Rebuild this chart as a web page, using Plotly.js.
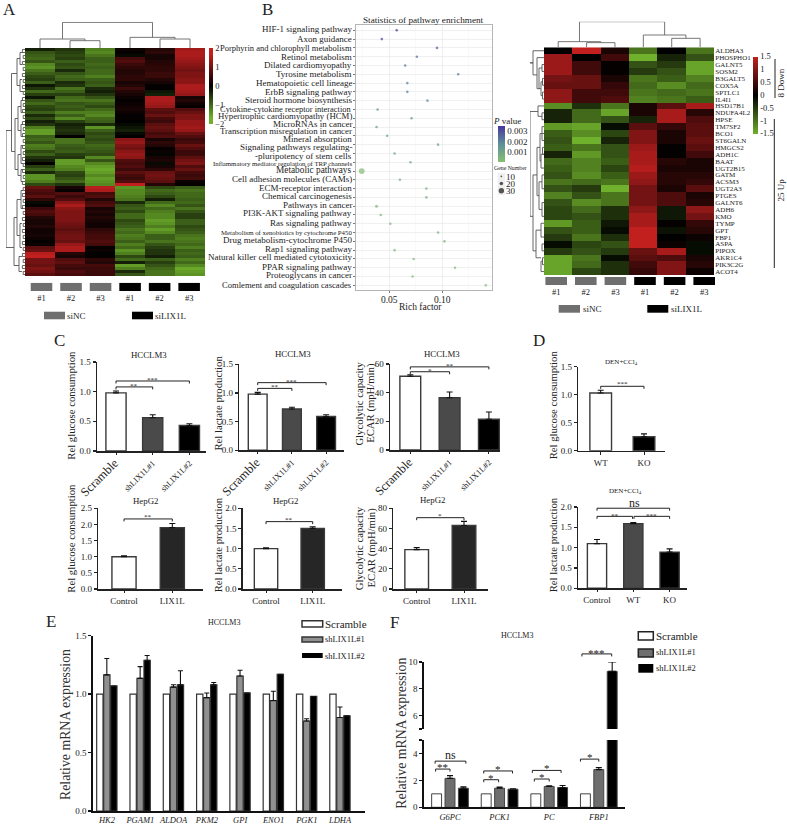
<!DOCTYPE html>
<html><head><meta charset="utf-8">
<script src="https://cdn.plot.ly/plotly-3.0.1.min.js"></script>
<style>html,body{margin:0;padding:0;background:#fff}#g{width:787px;height:827px}</style></head>
<body><div id="g"></div>
<script>
/* ---------- DATA ---------- */
const sampleLabels=['#1','#2','#3','#1','#2','#3'];
const sampleColors=['#6f6f6f','#6f6f6f','#6f6f6f','#000','#000','#000'];
const heatA=[
[-.3,-.5,-1.2,.1,.3,1.4],[-.8,-.6,-1.3,.05,.4,1.5],[-.9,-.7,-1.1,-.1,.2,1.5],[-1,-.6,-.9,.6,.2,1.4],
[-.8,-.9,-.9,.7,.3,1.3],[-1.3,-.7,-1,.5,.35,1.2],[-1.4,-.8,-.9,.4,.4,1.1],[-1.1,-.4,-1,.3,.4,1],
[-.9,-.8,-1,.3,.5,1.1],[-.7,-1,-1.2,.4,.5,1.1],[-.6,-.9,-.9,.4,.3,1.2],[-.9,-.4,-.8,.2,.2,1.2],
[-.2,-.5,-.9,.3,.03,1.5],[-.5,-1.1,-.4,.5,.02,1.5],[-1,-.9,-.3,.3,-.2,1.4],[-.6,-.6,-.5,.2,-.3,1.3],
[-.2,-1,-.8,.1,1.5,.2],[-.8,-1.1,-1.1,.05,1.5,.3],[-1,-.8,-.9,.1,1.4,.15],[-.7,-.9,-.7,.15,1.3,.05],
[-.6,-.8,-1,.2,.8,.7],[-.9,-1.2,-1.2,.1,.7,.9],[-.4,-.9,-1.3,.03,.9,1.1],[-.7,-1.3,-1,.05,.6,1.1],
[-.3,-.6,-.9,0,.5,1.3],[-.5,-.3,-.4,-.1,.8,1.3],[-1.2,-.4,-1.4,-.2,.9,1.4],[-1.5,-.5,-.9,-.3,.8,1.3],
[-1.5,-.4,-.7,-.1,.6,.9],[-.9,.05,-.8,.02,.7,.7],
[-1,-1.1,-.7,1.2,.2,.5],[-.8,-1.1,-.8,1.3,.4,.6],[-1.2,-.9,-1,1.1,.3,.9],[-1.1,-.8,-.9,1,.05,.7],
[-.7,-.9,-.8,1.2,.1,.5],[-.9,-.6,-.7,1.3,-.05,.5],[-.5,-.5,-1.3,1.2,.2,.8],[-.3,-1.5,-.8,.7,.25,1],
[.05,-1.5,-1.3,.6,-.1,1.1],[-.6,-1.3,-1.5,.7,.2,.7],[-.9,-1.2,-1.6,.5,.4,.9],[-.4,-.7,-1.5,.8,.9,.6],
[-1.4,-.6,-1.3,.6,1,.5],[-1.4,-.8,-1.5,.5,.9,.6],[-1.2,-1,-1.4,.7,.8,.1],[-.7,-.5,-1.3,1.7,.3,.05],
[.9,.2,1.6,-1.4,-.7,-.9],[.7,.05,1.5,-1.3,-1,-1.1],[.6,.7,.6,-1.3,-.9,-1],[.8,.5,.7,-1.2,-.7,-1],
[.4,.7,.3,-1.1,-.3,-.9],[-.1,1.2,.6,-.4,-1,-1],[.05,1.5,.7,-.8,-1.3,-.8],[.5,1.2,.2,-.9,-1,-1.1],
[.7,1.1,.3,-.7,-1.2,-.8],[.6,1.1,.2,-1,-1.3,-.6],[.3,1.1,.3,-1,-1.3,-.6],[.2,1.1,.2,-.7,-1.5,-.9],
[.2,1,.15,-.8,-1.4,-.9],[.3,.9,.15,-.9,-1.2,-.7],[.15,.8,.4,-1.1,-1.5,-.8],[.15,.9,.5,-1,-1.3,-.9],
[.2,1,.6,-1.2,-.9,-1.1],[.1,1,.6,-1.1,-.9,-1.2],[.05,.9,.7,-.9,-1.1,-1.1],[.1,1.3,.6,-1.2,-.8,-1],
[.8,1.5,.05,-1,-.6,-1.2],[.9,1.5,.1,-1.4,-.5,-.9],[1.6,.3,-.02,-1.2,-.5,-1],[1.7,.2,.05,-.7,-.3,-.9],
[1,.7,.4,-1,-.9,-1.2],[1,.8,.3,-.3,-.6,-1],[.9,.6,.6,-1.5,-.8,-1.3],[1.1,.5,.5,-1.2,-1,-1.6],
[1,.7,.5,-.4,-1.1,-1.5],[.8,.6,.5,-.8,-1.1,-1.4]];
const genesR=['ALDHA3','PHOSPHO1','GALNT5','SOSM2','B3GALT5','COX5A','SPTLC1','IL4I1','HSD17B1','NDUFA4L2','HPSE','TM7SF2','BCO1','ST6GALN','HMGCS2','ADH1C','BAAT','UGT2B15','GATM','ACSM3','UGT2A3','PTGES','GALNT6','ADH6','KMO','TYMP','GPT','FBP1','ASPA','PIPOX','AKR1C4','PIK3C2G','ACOT4'];
const heatR=[
[0,1.5,.2,-1,0,-1],[1.2,0,.5,-1.5,-.3,-.7],[1.2,.5,.05,-.7,-.5,-1.4],[1.2,.5,.05,-.5,-.7,-1.4],
[.9,.8,.2,-1,-.8,-1.1],[.8,.8,.4,-.9,-1.2,-.9],[1.1,.5,.5,-1,-.9,-1],[1.1,.5,.6,-1.1,-1,-.8],
[-1.2,-.4,-1,.2,.7,1.3],[-.3,-.9,-1.4,.2,1.3,.3],[-.3,-.9,-.7,-.3,1.3,.6],[-1.3,-1.4,-.1,.7,.4,.7],
[-.8,-1.2,-.6,1,.2,.7],[-.7,-1.5,-.3,1,.2,.8],[-.8,-1,-.7,1.2,.03,.7],[-.3,-1.3,-.7,1.3,.03,.5],
[-.9,-1.1,-.8,1.3,.3,.2],[-.8,-1.1,-.6,1.4,.2,.2],[-.7,-1.2,-.8,1.2,.3,.3],[-1,-.9,-1,1.1,.3,.4],
[-.7,-.5,-1.5,.9,.2,.7],[-1.1,-.7,-1,.9,.6,.2],[-.7,-1.2,-1,.9,.6,.3],[-.6,-.9,-.4,1.1,-.2,1.1],
[-.6,-.7,-.4,1.3,-.2,.9],[-1.3,-.8,-.2,1.3,.05,.4],[-.7,-.8,-.1,1.5,-.15,.3],[-.5,-1,-.4,1.5,0,.1],
[-.1,-.6,-.7,1.5,.1,-.1],[-.5,-.7,-.5,.8,1.3,-.1],[-1.4,-1,-.1,.7,.6,.2],[-1.4,-.9,-.4,.5,1,.3],[-1.4,-.6,-.4,.4,1,.1]];
/* dendrogram merges: [posA,heightA,posB,heightB,height] */
const dendTopA=[[1,0,2,0,22],[0,0,1.5,22,27],[4,0,5,0,27],[3,0,4.5,27,32],[.75,27,3.75,32,77]];
const dendTopR=[[1,0,2,0,14],[0,0,1.5,14,17],[4,0,5,0,27],[3,0,4.5,27,37],[.75,17,3.75,37,77]];
const dendLeftA=[[27,13.5,66,11,19],[8,8,34,10,13.5],[3,5,12,5,8],[1,2,5,3,5],[10,3,14,2,5],[23,7,40,7,10],[19,4,27,4,7],[17,2,21,2.5,4],[25,2,29,2,4],[35,4,42,4,7],[32,2,38,2,4],[40,2,44,2,4],[56,8,72,6,11],[50,4,62,5,8],[47,2,53,2,4],[58,3,66,3,5],[69,3,74,3,6]];
const dendLeftR=[[1.75,11,1.75,11,14],[0,0,3.5,7,11],[1,0,5.5,5,7],[2.5,2,5.5,3,5],[2,0,3,0,2],[4.5,1.5,6.5,1.5,3],[4,0,5,0,1.5],[6,0,7,0,1.5],
[8.8,6,24,11,14],[8,0,9.5,2,6],[9,0,10,0,2],[18,7,29,8,11],[14,4,21,5,7],[12,0,16,3,4],[11,0,13,0,2],[15,0,17,0,3],[19,2,23,2,5],[18,0,20,0,2],[22,0,24,0,2],[26,3,30,3,8],[25,0,27,0,3],[28,0,29,0,2],[30.5,1.5,32,0,3],[30,0,31,0,1.5],[14,0,15,0,1.5]];
/* panel B */
const pathways=['HIF-1 signaling pathway','Axon guidance','Porphyrin and chlorophyll metabolism','Retinol metabolism','Dilated cardiomyopathy','Tyrosine metabolism','Hematopoietic cell lineage','ErbB signaling pathway','Steroid hormone biosynthesis','Cytokine-cytokine receptor interaction','Hypertrophic cardiomyopathy (HCM)','MicroRNAs in cancer','Transcription misregulation in cancer','Mineral absorption','Signaling pathways regulating- -pluripotency of stem cells','Inflammatory mediator regulation of TRP channels','Metabolic pathways','Cell adhesion molecules (CAMs)','ECM-receptor interaction','Chemical carcinogenesis','Pathways in cancer','PI3K-AKT signaling pathway','Ras signaling pathway','Metabolism of xenobiotics by cytochrome P450','Drug metabolism-cytochrome P450','Rap1 signaling pathway','Natural killer cell mediated cytotoxicity','PPAR signaling pathway','Proteoglycans in cancer','Comlement and coagulation cascades'];
const richFactor=[.057,.043,.095,.076,.065,.115,.067,.067,.086,.039,.071,.038,.048,.096,.055,.070,.024,.060,.085,.085,.038,.042,.051,.096,.102,.055,.073,.112,.072,.141];
const pValue=[.0035,.0033,.0027,.0025,.0023,.0022,.0021,.0021,.0019,.0017,.0015,.0014,.0012,.0012,.0011,.001,.0002,.0008,.0007,.0007,.0004,.0004,.0005,.0006,.0006,.0004,.0005,.0004,.0003,.0003];
const geneCount=[7,10,6,6,7,6,6,6,6,11,7,13,9,6,7,7,32,9,7,7,17,15,12,7,6,13,10,7,14,9];
const sizeLegend=[10,20,30];
/* panels C,D */
const grpC=['Scramble','shLIX1L#1','shLIX1L#2'], grpH=['Control','LIX1L'];
const c1=[.98,.56,.43],c1e=[.03,.05,.03],c2=[.98,.72,.59],c2e=[.03,.03,.03],c3=[51.5,36.5,21.5],c3e=[1,4,5];
const c4=[1,1.9],c4e=[.03,.13],c5=[1,1.5],c5e=[.02,.04],c6=[39,63],c6e=[2,4];
const d1=[1.03,.25],d1e=[.05,.05],d2=[1.1,1.59,.89],d2e=[.1,.03,.08];
/* panel E */
const genesE=['HK2','PGAM1','ALDOA','PKM2','GPI','ENO1','PGK1','LDHA'];
const eScr=[1,1,1,1,1,1,1,1];
const eA=[1.165,1.135,1.06,.97,1.155,.945,.77,.8],eAe=[.14,.1,.02,.04,.05,.08,.02,.09];
const eB=[1.07,1.29,1.08,1.08,1.01,1.17,.98,.815],eBe=[0,.04,.12,.02,0,0,0,0];
/* panel F */
const genesF=['G6PC','PCK1','PC','FBP1'];
const fScr=[1,1,1,1];
const fA=[2.15,1.42,1.55,2.8],fAe=[.2,.08,.05,.15];
const fB=[1.42,1.35,1.47,9.3],fBe=[.1,.02,.15,.7];

/* ---------- HELPERS ---------- */
const W=787,H=827,FF='Liberation Serif',INK='#222';
const traces=[],annotations=[],shapes=[];
const layout={width:W,height:H,margin:{l:0,r:0,t:0,b:0,autoexpand:false},paper_bgcolor:'#fff',plot_bgcolor:'rgba(0,0,0,0)',showlegend:false,font:{family:FF,color:INK,size:9},annotations,shapes,barmode:'overlay',hovermode:false};
let n=0;
const base={showgrid:false,zeroline:false,fixedrange:true,showticklabels:false,ticks:'',showline:false};
function axes(L,R,T,B,xo,yo){n++;const s=n==1?'':n;
 layout['xaxis'+s]=Object.assign({},base,{domain:[L/W,R/W],anchor:'y'+s},xo);
 layout['yaxis'+s]=Object.assign({},base,{domain:[1-B/H,1-T/H],anchor:'x'+s},yo);
 return {x:'x'+s,y:'y'+s};}
function T(px,py,text,size,o={}){annotations.push({xref:'paper',yref:'paper',x:px/W,y:1-py/H,text,showarrow:false,xanchor:o.a||'center',yanchor:'middle',textangle:o.rot||0,borderpad:0,font:{family:FF,size,color:o.c||'#222'}});}
function rect(L,Tp,R,B,fill,line){shapes.push({type:'rect',xref:'paper',yref:'paper',x0:L/W,x1:R/W,y0:1-B/H,y1:1-Tp/H,fillcolor:fill,line:{color:line||fill,width:line?1.5:0},layer:'below'});}
function vline(px,y0,y1){shapes.push({type:'line',xref:'paper',yref:'paper',x0:px/W,x1:px/W,y0:1-y0/H,y1:1-y1/H,line:{color:'#222',width:1}});}
function dend(ax,m,vertical,color){const a=[],b=[];m.forEach(([p,hp,q,hq,h])=>{a.push(p,p,q,q,null);b.push(hp,h,h,hq,null);});
 traces.push(Object.assign({type:'scatter',mode:'lines',line:{color:color||'#555',width:.9},hoverinfo:'skip',xaxis:ax.x,yaxis:ax.y},vertical?{x:a,y:b}:{x:b,y:a}));}
const heatScale=[[0,'#6fb02c'],[.08,'#6fb02c'],[.5,'#000'],[.92,'#c21f1f'],[1,'#c21f1f']];
const heatScaleR=[[0,'#6fb02c'],[.5,'#000'],[1,'#c21f1f']];
function strip(L,R,Tp,B,c0,sp){const ax=axes(L,R,Tp,B,{range:[(L-c0)/sp,(R-c0)/sp],tickvals:[0,1,2,3,4,5],ticktext:sampleLabels,showticklabels:true,tickfont:{size:8.5,family:FF},ticklen:0},{range:[0,1]});
 traces.push({type:'bar',x:[0,1,2,3,4,5],y:[1,1,1,1,1,1],width:.73,marker:{color:sampleColors,line:{width:0}},xaxis:ax.x,yaxis:ax.y});}
function bracket(ax,pxPerUnit,x0,x1,y,label,size,dy){const d=2.5/pxPerUnit;
 traces.push({type:'scatter',mode:'lines',x:[x0,x0,x1,x1],y:[y-d,y,y,y-d],line:{color:'#222',width:1},cliponaxis:false,xaxis:ax.x,yaxis:ax.y});
 if(label)annotations.push({xref:ax.x,yref:ax.y,x:(x0+x1)/2,y,yshift:dy==null?2:dy,text:label,showarrow:false,yanchor:'middle',xanchor:'center',borderpad:0,font:{family:FF,size:size||8,color:'#222'}});}
function err(a,w){return {type:'data',array:a,arrayminus:a.map(()=>0),symmetric:false,thickness:1.1,width:w||3,color:'#111'};}
function lineAxis(o){return Object.assign({showline:true,linecolor:'#222',linewidth:1.5},o);}
function barPanel(c){
 const ids=c.vals.map((_,i)=>i);
 const ax=axes(c.L,c.R,c.Tp,c.B,lineAxis({range:[(c.L-c.c0)/c.sp,(c.R-c.c0)/c.sp],tickvals:ids,ticktext:c.ticks,showticklabels:true,ticks:'outside',ticklen:2.5,tickwidth:1,tickcolor:'#222',tickangle:c.rot||0,tickfont:{size:c.tsize||9,family:FF}}),
  lineAxis({range:[0,c.ymax],tickvals:c.yt,ticktext:c.ytl,showticklabels:true,ticks:'outside',ticklen:3,tickwidth:1.2,tickcolor:'#222',tickfont:{size:9,family:FF}}));
 traces.push({type:'bar',x:ids,y:c.vals,width:c.bw,marker:{color:c.colors,line:{color:'#3a3a3a',width:1.4}},error_y:err(c.err),xaxis:ax.x,yaxis:ax.y});
 ax.ppu=(c.B-c.Tp)/c.ymax;return ax;}
const big=s=>`<span style="font-size:12.5px">${s}</span>`;
const rotTicks=[big(grpC[0]),grpC[1],grpC[2]];
const y15=[0,.5,1,1.5],y15l=['0.0','0.5','1.0','1.5'],y20=[0,.5,1,1.5,2],y20l=['0.0','0.5','1.0','1.5','2.0'];

/* ---------- PANEL A ---------- */
let ax=axes(25,205,48,276,{range:[-.5,5.5]},{range:[heatA.length-.5,-.5]});
traces.push({type:'heatmap',z:heatA,x:[0,1,2,3,4,5],y:heatA.map((_,i)=>i),zmin:-2,zmax:2,colorscale:heatScale,xaxis:ax.x,yaxis:ax.y,
 colorbar:{x:209.3/W,xanchor:'left',y:1-86/H,yanchor:'middle',len:76/H,lenmode:'fraction',thickness:4,thicknessmode:'pixels',outlinewidth:0,xpad:0,ypad:0,ticks:'',tickvals:[-2,-1,0,1,2],tickfont:{size:8.5,family:FF,color:'#222'}}});
ax=axes(25,205,21.7,48,{range:[-.5,5.5]},{range:[0,79]});dend(ax,dendTopA,true,'#666');
ax=axes(6,25,48,276,{range:[19,0]},{range:[heatA.length-.5,-.5]});
const leafA=[];for(let r=0;r<heatA.length;r+=2)leafA.push([r,0,r+1,0,r%4?1.8:2.6]);
dend(ax,leafA.concat(dendLeftA),false,'#555');
strip(25,205,282.7,291,41.5,29.53);
rect(44,311.7,65,319.3,'#6f6f6f');T(66,315.5,'siNC',9,{a:'left'});
rect(132,311.7,153,319.3,'#000');T(154,315.5,'siLIX1L',9,{a:'left'});
T(9,9.5,'A',17);

/* ---------- PANEL B ---------- */
ax=axes(356,491.7,25.3,290,{range:[.0186,.1466],tickvals:[.05,.1],ticktext:['0.05','0.10'],showticklabels:true,ticklabelstandoff:-2,showgrid:true,gridcolor:'#ececec',gridwidth:.8,minor:{showgrid:true,dtick:.025,gridcolor:'#f5f5f5',gridwidth:.6},showline:true,mirror:true,linecolor:'#b5b5b5',linewidth:1.4,ticks:'outside',ticklen:2,tickcolor:'#777',tickfont:{size:9.5,family:FF}},
 {type:'category',categoryorder:'array',categoryarray:pathways,range:[29.53,-.57],tickvals:pathways,showgrid:true,gridcolor:'#ececec',gridwidth:.8,showline:true,mirror:true,linecolor:'#b5b5b5',linewidth:1.4,ticks:'outside',ticklen:2,tickcolor:'#777'});
const bScale=[[0,'#86c070'],[.5,'#5d8f9a'],[1,'#47379d']];
traces.push({type:'scatter',mode:'markers',x:richFactor,y:pathways,xaxis:ax.x,yaxis:ax.y,marker:{size:geneCount,sizemode:'diameter',sizeref:5.6,sizemin:1.3,color:pValue,cmin:.00006,cmax:.0035,colorscale:bScale,line:{width:0},
 colorbar:{x:497.7/W,xanchor:'left',y:1-144/H,yanchor:'middle',len:36/H,lenmode:'fraction',thickness:7.3,thicknessmode:'pixels',outlinewidth:0,xpad:0,ypad:0,ticks:'',tickvals:[.001,.002,.003],ticktext:['0.001','0.002','0.003'],tickfont:{size:9,family:FF,color:'#222'}}}});
/* pathway labels sit a little off their rows in the source, so they are placed individually */
const labelRowsPx=[29.3,39,48,56.7,65.3,74,82.7,91.7,100.3,108.7,116,124,130.7,139.3,147,155.7,163.7,170.3,179,187.7,196.3,204.7,213.3,223,232.3,240.3,248.7,257.3,266.7,275.3,285.3];
const labelText=pathways.slice(0,14).concat(['Signaling pathways regulating-','-pluripotency of stem cells'],pathways.slice(15));
const labelSize=[9,9,8.5,9,9,9,9,9,9,8.45,8.8,9,8.8,9,9,9,6.8,9.3,9,9,9,9,9,9,6.8,9,9,9,9,9,8.6];
labelText.forEach((t,i)=>T(353.3,labelRowsPx[i],t,labelSize[i],{a:'right'}));
T(424,20,'Statistics of pathway enrichment',9.2);
T(421,306.5,'Rich factor',9.5);
T(506.7,120.7,'<i>P</i> value',9);
T(510.7,168,'Gene Number',5.8);
rect(497.7,172.7,505,195,'#f0f0f0');
ax=axes(497.7,505,172.7,195,{range:[0,1]},{range:[36,4.9],side:'right',tickvals:sizeLegend,ticktext:sizeLegend.map(String),showticklabels:true,tickfont:{size:9,family:FF},ticklen:0});
traces.push({type:'scatter',mode:'markers',x:[.5,.5,.5],y:sizeLegend,xaxis:ax.x,yaxis:ax.y,marker:{size:sizeLegend,sizemode:'diameter',sizeref:5.6,color:'#111',line:{width:0}}});
T(267.5,9.5,'B',17);

/* ---------- RIGHT HEATMAP ---------- */
ax=axes(544,714.3,47.3,275,{range:[-.5,5.5]},{range:[genesR.length-.5,-.5],side:'right',tickvals:genesR.map((_,i)=>i),ticktext:genesR,showticklabels:true,tickfont:{size:7,family:FF},ticklen:0});
traces.push({type:'heatmap',z:heatR,x:[0,1,2,3,4,5],y:genesR.map((_,i)=>i),zmin:-1.5,zmax:1.5,colorscale:heatScaleR,xaxis:ax.x,yaxis:ax.y,
 colorbar:{x:752.7/W,xanchor:'left',y:1-95/H,yanchor:'middle',len:76.6/H,lenmode:'fraction',thickness:4.6,thicknessmode:'pixels',outlinewidth:0,xpad:0,ypad:0,ticks:'',tickvals:[-1.5,-1,-.5,0,.5,1,1.5],ticktext:['-1.5','-1','-0.5','0','0.5','1','1.5'],tickfont:{size:8.5,family:FF,color:'#222'}}});
ax=axes(544,714.3,21.7,47.3,{range:[-.5,5.5]},{range:[0,77]});dend(ax,dendTopR,true,'#666');
ax=axes(530,544,47.3,275,{range:[14,0]},{range:[genesR.length-.5,-.5]});dend(ax,dendLeftR,false,'#555');
strip(544,717,277,285,556.2,29.6);
rect(558.7,305,580,312.7,'#6f6f6f');T(582,309,'siNC',9,{a:'left'});
rect(647.3,305,668.3,312.7,'#000');T(670,309,'siLIX1L',9,{a:'left'});
vline(775,59,98);vline(774.3,119,268);
T(780.5,83,'8 Down',9,{rot:-90});T(780.5,190,'25 Up',9,{rot:-90});

/* ---------- PANEL C ---------- */
const cCol=['#fff','#4a4a4a','#000'];
ax=barPanel({L:97,R:206,Tp:362,B:451,c0:116,sp:36.7,bw:.55,vals:c1,err:c1e,colors:cCol,ticks:rotTicks,rot:-45,tsize:8.5,ymax:1.5,yt:y15,ytl:y15l});
bracket(ax,ax.ppu,0,2,1.18,'***',7,1);bracket(ax,ax.ppu,0,1,1.08,'**',7,1);
ax=barPanel({L:239.3,R:344,Tp:364.3,B:450.3,c0:257.7,sp:34.2,bw:.55,vals:c2,err:c2e,colors:cCol,ticks:rotTicks,rot:-45,tsize:8.5,ymax:1.5,yt:y15,ytl:y15l});
bracket(ax,ax.ppu,0,2,1.18,'***',7,1);bracket(ax,ax.ppu,0,1,1.08,'**',7,1);
ax=barPanel({L:390,R:500,Tp:364,B:450,c0:410.3,sp:39.3,bw:.53,vals:c3,err:c3e,colors:cCol,ticks:rotTicks,rot:-45,tsize:8.5,ymax:60,yt:[0,20,40,60],ytl:['0','20','40','60']});
bracket(ax,ax.ppu,0,2,58,'**',7,1);bracket(ax,ax.ppu,0,1,54.6,'*',7,1);
const hCol=['#fff','#262626'];
ax=barPanel({L:98.3,R:203,Tp:508.3,B:589,c0:124,sp:48.3,bw:.5,vals:c4,err:c4e,colors:hCol,ticks:grpH,ymax:2.5,yt:[0,.5,1,1.5,2,2.5],ytl:['0.0','0.5','1.0','1.5','2.0','2.5']});
bracket(ax,ax.ppu,0,1,2.17,'**',7,2);
ax=barPanel({L:242.7,R:341.7,Tp:508.3,B:589,c0:266,sp:46.7,bw:.5,vals:c5,err:c5e,colors:hCol,ticks:grpH,ymax:2,yt:y20,ytl:y20l});
bracket(ax,ax.ppu,0,1,1.67,'**',7,2);
ax=barPanel({L:393.3,R:488,Tp:508.3,B:589,c0:416.7,sp:47.3,bw:.5,vals:c6,err:c6e,colors:hCol,ticks:grpH,ymax:80,yt:[0,20,40,60,80],ytl:['0','20','40','60','80']});
bracket(ax,ax.ppu,0,1,70.7,'*',7,2);
T(148.7,355,'HCCLM3',8.8);T(292.7,353.7,'HCCLM3',8.8);T(441.7,353.7,'HCCLM3',8.8);
T(145,500.7,'HepG2',8.8);T(285,500.7,'HepG2',8.8);T(432.3,500,'HepG2',8.8);
T(70.7,405,'Rel glucose consumption',10.7,{rot:-90});T(218.3,403.3,'Rel lactate production',10.7,{rot:-90});
T(359.3,403.3,'Glycolytic capacity',10.7,{rot:-90});T(370.5,403.3,'ECAR (mpH/min)',10.7,{rot:-90});
T(70.7,538,'Rel glucose consumption',10.7,{rot:-90});T(218.3,545,'Rel lactate production',10.7,{rot:-90});
T(359.3,548,'Glycolytic capacity',10.7,{rot:-90});T(370.5,548,'ECAR (mpH/min)',10.7,{rot:-90});
T(59,340,'C',17);

/* ---------- PANEL D ---------- */
ax=barPanel({L:578.3,R:665,Tp:366.7,B:450.7,c0:600.7,sp:43.3,bw:.5,vals:d1,err:d1e,colors:['#fff','#000'],ticks:['WT','KO'],ymax:1.5,yt:y15,ytl:y15l});
bracket(ax,ax.ppu,0,1,1.15,'***',7,2);
ax=barPanel({L:578,R:686.7,Tp:507,B:588.3,c0:597,sp:36.3,bw:.53,vals:d2,err:d2e,colors:['#fff','#4a4a4a','#000'],ticks:['Control','WT','KO'],ymax:2,yt:y20,ytl:y20l});
bracket(ax,ax.ppu,0,2,1.97,'',7);bracket(ax,ax.ppu,0,.98,1.77,'**',7,0);bracket(ax,ax.ppu,1.02,2,1.77,'***',7,0);
T(621,361.7,'DEN+CCl<sub>4</sub>',7);T(625,490.7,'DEN+CCl<sub>4</sub>',7);T(634.3,502.7,'ns',12);
T(553.3,405,'Rel glucose consumption',10.7,{rot:-90});T(553.3,545,'Rel lactate production',10.7,{rot:-90});
T(539,340,'D',17);

/* ---------- PANEL E ---------- */
const ids=genesE.map((_,i)=>i), sc=33.3;
ax=axes(93.3,365,635.7,811,lineAxis({linewidth:2,linecolor:'#111',range:[(93.3-107)/sc,(365-107)/sc],tickvals:ids,ticktext:genesE.map(s=>`<i>${s}</i>`),showticklabels:true,tickfont:{size:8.5,family:FF}}),
 lineAxis({linewidth:2,linecolor:'#111',range:[0,1.5],tickvals:y15,ticktext:y15l,showticklabels:true,ticks:'outside',ticklen:3,tickwidth:1.4,tickcolor:'#111',tickfont:{size:9,family:FF}}));
[[eScr,null,'#fff',-.31],[eA,eAe,'#909090',-.1],[eB,eBe,'#000',.11]].forEach(([v,e,c,off])=>{const t={type:'bar',x:ids,y:v,width:.19,offset:off,marker:{color:c,line:{color:'#333',width:1.2}},xaxis:ax.x,yaxis:ax.y};if(e)t.error_y=err(e,2.5);traces.push(t);});
T(224,622,'HCCLM3',8);
T(65,725,'Relative mRNA expression',13.8,{rot:-90,c:'#333'});
rect(302,620.7,322.7,627,'#fff','#333');T(323.7,624,'Scramble',11,{a:'left'});
rect(302,637,322.7,642,'#909090','#333');T(323.7,639.3,'shLIX1L#1',8.5,{a:'left'});
rect(302,653,322.7,658,'#000');T(323.7,655.7,'shLIX1L#2',8.5,{a:'left'});
T(51,621,'E',17);

/* ---------- PANEL F ---------- */
const idf=genesF.map((_,i)=>i), sf=49.6, fx=[(424.3-450)/sf,(625-450)/sf];
const fMinor={tickvals:[5],ticks:'outside',ticklen:3,tickwidth:1.4,tickcolor:'#111'};
const axLow=axes(424.3,625,740,807.3,lineAxis({linewidth:2,linecolor:'#111',range:fx,tickvals:idf,ticktext:genesF.map(s=>`<i>${s}</i>`),showticklabels:true,tickfont:{size:8.5,family:FF}}),
 lineAxis({linewidth:2,linecolor:'#111',range:[0,5],tickvals:[0,2,4],ticktext:['0','2','4'],showticklabels:true,ticks:'outside',ticklen:3,tickwidth:1.4,tickcolor:'#111',tickfont:{size:9,family:FF},minor:fMinor}));
const axHigh=axes(424.3,625,662,729,{range:fx},lineAxis({linewidth:2,linecolor:'#111',range:[5,10],tickvals:[6,8,10],ticktext:['6','8','10'],showticklabels:true,ticks:'outside',ticklen:3,tickwidth:1.4,tickcolor:'#111',tickfont:{size:9,family:FF},minor:fMinor}));
/* the part of the scale above the axis end, only carrying the FBP1 bracket */
const pl=67.3/5;
const axAbove=axes(424.3,625,640,662,{range:fx},{range:[10,10+22/pl]});
const fBeLow=fBe.map((e,i)=>fB[i]>5?0:e);
[[fScr,null,'#fff',-.37],[fA,fAe,'#6e6e6e',-.1],[fB,fBeLow,'#000',.17]].forEach(([v,e,c,off])=>{const t={type:'bar',x:idf,y:v,width:.2,offset:off,marker:{color:c,line:{color:'#444',width:1}},xaxis:axLow.x,yaxis:axLow.y};if(e)t.error_y=err(e,3);traces.push(t);});
traces.push({type:'bar',x:idf.slice(3),y:fB.slice(3),width:.2,offset:.17,marker:{color:'#000',line:{color:'#444',width:1}},error_y:err(fBe.slice(3),4),xaxis:axHigh.x,yaxis:axHigh.y});
bracket(axLow,pl,-.29,0,2.84,'**',11,2);bracket(axLow,pl,-.3,.32,3.43,'ns',12,6);
bracket(axLow,pl,.68,.98,2.05,'*',11,2);bracket(axLow,pl,.68,1.26,2.7,'*',11,2);
bracket(axLow,pl,1.7,2,2.1,'*',11,2);bracket(axLow,pl,1.66,2.24,2.74,'*',11,2);
bracket(axLow,pl,2.63,3,3.58,'*',11,2);
bracket(axAbove,pl,2.66,3.26,10.6,'***',11,1);
T(516.7,635,'HCCLM3',8);
T(400.7,733,'Relative mRNA expression',13.8,{rot:-90,c:'#333'});
rect(638.3,631.7,653.3,640,'#fff','#222');T(655,635.7,'Scramble',11,{a:'left'});
rect(638.3,649,653.3,657,'#6e6e6e','#222');T(655,651.7,'shLIX1L#1',8.5,{a:'left'});
rect(638.3,664,653.3,672.7,'#000');T(655,668,'shLIX1L#2',8.5,{a:'left'});
T(395,622,'F',17);

Plotly.newPlot('g',traces,layout,{staticPlot:true,displayModeBar:false});
</script></body></html>
